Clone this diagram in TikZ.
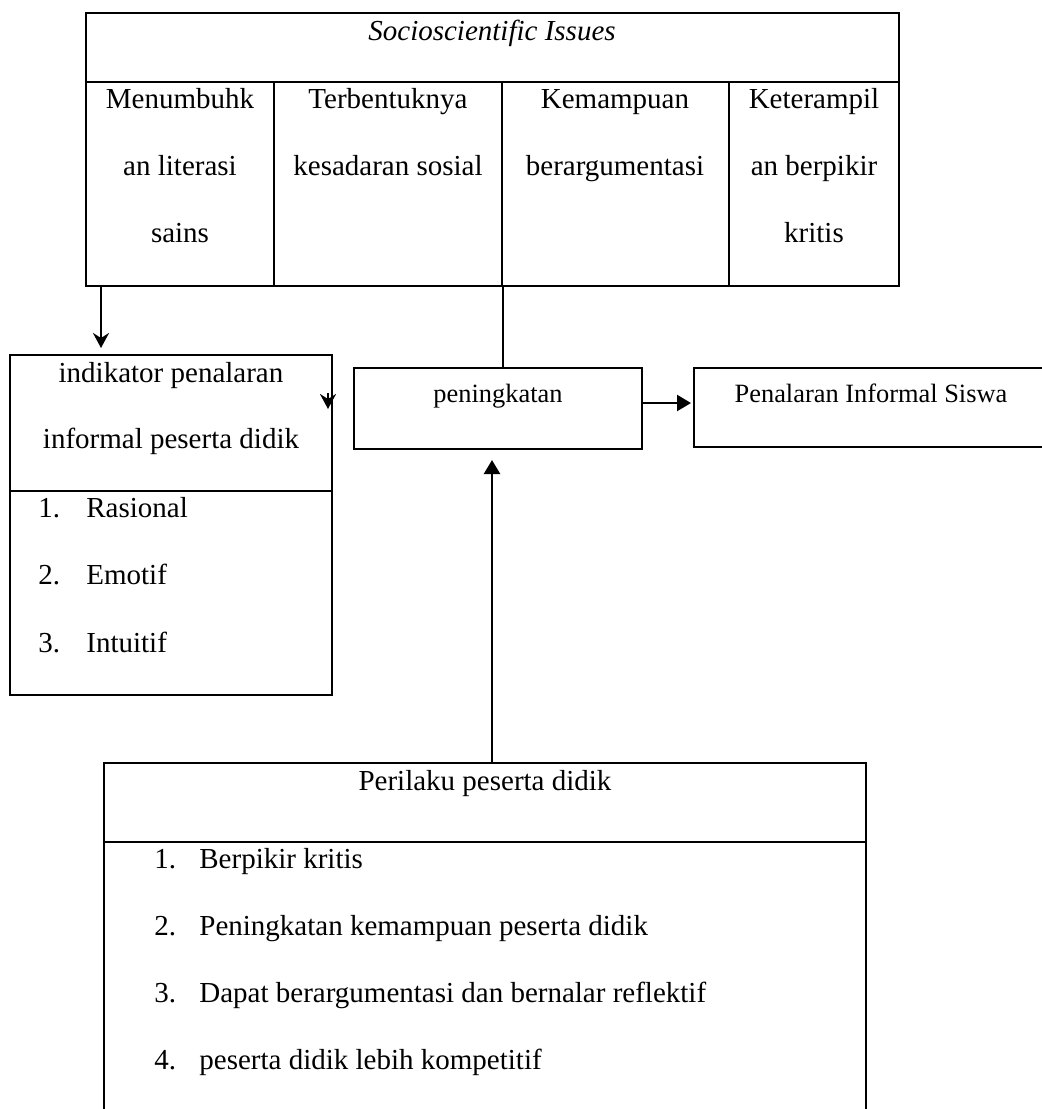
\documentclass[tikz,border=0pt]{standalone}
\usepackage{fontspec}
\setmainfont{Liberation Serif}
\usetikzlibrary{arrows.meta}

\tikzset{
  box/.style={draw, line width=1.2pt, inner sep=0pt, outer sep=0pt, anchor=north west},
  txt/.style={inner sep=0pt, anchor=base, font=\fontsize{14.5}{17}\selectfont},
  txtl/.style={txt, anchor=base west},
  small/.style={txt, font=\fontsize{13.2}{16}\selectfont},
  arr/.style={line width=1.2pt, -{Triangle[length=7pt,width=8pt]}},
  darr/.style={line width=1.2pt, -{Stealth[length=7.5pt,width=8pt,inset=2.5pt]}},
}

\begin{document}
\begin{tikzpicture}[x=0.5pt,y=-0.5pt]
    \useasboundingbox (0,0) rectangle (1042,1109);
    \clip (0,0) rectangle (1042,1109);
    % boxes
    \node[box, minimum width=406.5pt, minimum height=136.5pt] (ssi) at (86,13) {};
    \node[box, minimum width=161pt, minimum height=170pt] (ind) at (10,355) {};
    \node[box, minimum width=144pt, minimum height=40.5pt] (ping) at (354,368) {};
    \node[box, minimum width=183pt, minimum height=39.5pt] (pis) at (694,368) {};
    \node[box, minimum width=381pt, minimum height=178.5pt] (per) at (104,763) {};

    % top table
    \draw[line width=1.2pt] (86,82) -- (899,82);
    \foreach \cx in {274,502,729} {
      \draw[line width=1.2pt] (\cx,82) -- (\cx,286);
    }
    \node[txt, font=\fontsize{14.5}{17}\selectfont\itshape] (ssit) at (492,40) {Socioscientific Issues};
    \foreach \t [count=\i] in {Menumbuhk, an literasi, sains}
      \node[txt] (ca\i) at (180,{41+67*\i}) {\t};
    \foreach \t [count=\i] in {Terbentuknya, kesadaran sosial}
      \node[txt] (cb\i) at (388,{41+67*\i}) {\t};
    \foreach \t [count=\i] in {Kemampuan, berargumentasi}
      \node[txt] (cc\i) at (615,{41+67*\i}) {\t};
    \foreach \t [count=\i] in {Keterampil, an berpikir, kritis}
      \node[txt] (cd\i) at (814,{41+67*\i}) {\t};

    % indikator box
    \node[txt] (indt1) at (171,382) {indikator penalaran};
    \node[txt] (indt2) at (171,448) {informal peserta didik};
    \draw[line width=1.2pt] (10,491) -- (332,491);
    \foreach \t [count=\i] in {Rasional, Emotif, Intuitif} {
      \node[txtl] (indn\i) at (38,{449.5+67.5*\i}) {\i.};
      \node[txtl] (indi\i) at (86,{449.5+67.5*\i}) {\t};
    }

    % middle boxes
    \node[small] (pingt) at (498,402) {peningkatan};
    \node[small] (pist) at (871,402) {Penalaran Informal Siswa};

    % perilaku box
    \node[txt] (pert) at (485,790) {Perilaku peserta didik};
    \draw[line width=1.2pt] (104,842) -- (866,842);
    \foreach \t [count=\i] in {Berpikir kritis, Peningkatan kemampuan peserta didik,
        Dapat berargumentasi dan bernalar reflektif, peserta didik lebih kompetitif} {
      \node[txtl] (pern\i) at (154,{801+67*\i}) {\i.};
      \node[txtl] (peri\i) at (199,{801+67*\i}) {\t};
    }

    % connectors
    \draw[darr, shorten >=3.5pt] ([xshift=7.5pt]ssi.south west) -- ([xshift=7.5pt]ssi.south west |- ind.north);
    \draw[darr] ([xshift=-2pt,yshift=-19pt]ind.north east) -- ++(0pt,-8pt);
    \draw[line width=1.2pt] ([xshift=2.5pt]ping.north) -- ([xshift=2.5pt]ping.north |- ssi.south);
    \draw[arr, shorten >=1.5pt] ([yshift=2.75pt]ping.east) -- ([yshift=2.75pt]ping.east -| pis.west);
    \draw[arr, shorten >=5.5pt] ([xshift=3.5pt]per.north) -- ([xshift=3.5pt]per.north |- ping.south);
\end{tikzpicture}
\end{document}
